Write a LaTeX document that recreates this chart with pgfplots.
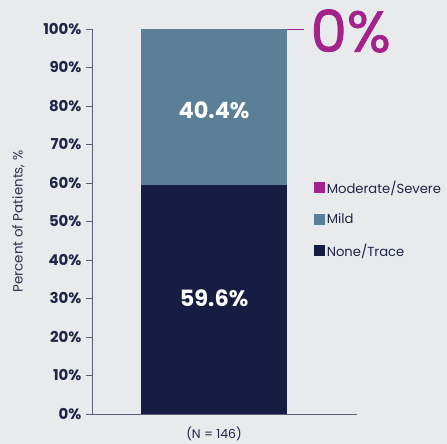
\documentclass[border=0pt]{standalone}
\usepackage{pgfplots}
\pgfplotsset{compat=1.18}
\usepackage{fontspec}
\setmainfont{Poppins}
\newfontfamily\popfb[FakeBold=1.3]{Poppins}
\definecolor{bgc}{HTML}{E9EAEC}
\definecolor{navy}{HTML}{151D42}
\definecolor{mild}{HTML}{5B7F96}
\definecolor{mag}{HTML}{A4228C}
\definecolor{axc}{HTML}{5A5F7A}
\definecolor{txt}{HTML}{1F2448}
\begin{document}
\begin{tikzpicture}
\fill[bgc] (-92bp,-30bp) rectangle (355bp,414bp);
\begin{axis}[
  scale only axis,
  width=265bp, height=385bp,
  ybar stacked,
  bar width=1,
  xmin=-0.836, xmax=0.979,
  ymin=0, ymax=100,
  axis x line=bottom, axis y line=left,
  axis line style={-, axc, line width=0.8pt},
  ytick={0,10,...,100},
  yticklabel={\pgfmathprintnumber{\tick}\%},
  xtick={0}, xticklabels={(N = 146)},
  x tick style={draw=none},
  y tick style={axc, line width=0.8pt},
  tick align=outside,
  major tick length=6bp,
  /pgf/number format/assume math mode=true,
  y tick label style={font=\bfseries\fontsize{15}{17}\selectfont, text=txt, xshift=-1bp},
  x tick label style={font=\fontsize{12.5}{14}\selectfont, text=txt, yshift=-3bp},
  ylabel={Percent of Patients, \%},
  ylabel style={font=\fontsize{13.5}{15}\selectfont, text=txt!85!gray, yshift=12bp},
  legend style={draw=none, fill=none, at={(rel axis cs:0.825,0.617)}, anchor=north west,
    font=\fontsize{13.2}{15}\selectfont, text=txt, row sep=15bp,
    /tikz/every even column/.append style={column sep=3bp}},
  legend cell align=left,
  reverse legend,
  legend image code/.code={\fill[#1] (0bp,-5.5bp) rectangle (11bp,5.5bp);},
  clip=false,
]
\addplot[fill=navy, draw=none] coordinates {(0,59.6)};
\addlegendentry{None/Trace}
\addplot[fill=mild, draw=none] coordinates {(0,40.4)};
\addlegendentry{Mild}
\addplot[fill=mag, draw=none] coordinates {(0,0)};
\addlegendentry{Moderate/Severe}
\draw[mag, line width=0.8pt] (axis cs:0.5,100) -- (axis cs:0.615,100);
\coordinate (zero) at (axis cs:0.66,100);
\coordinate (mildc) at (axis cs:0,79);
\coordinate (nonec) at (axis cs:0,30);
\end{axis}
\node[anchor=west, text=mag, font=\popfb\fontsize{58}{62}\selectfont, inner sep=0pt, yshift=-2bp] at (zero) {0\%};
\node[text=white, font=\fontsize{22.5}{25}\selectfont\bfseries] at (mildc) {40.4\%};
\node[text=white, font=\fontsize{22.5}{25}\selectfont\bfseries] at (nonec) {59.6\%};
\pgfresetboundingbox
\path[use as bounding box] (-92bp,-30bp) rectangle (355bp,414bp);
\end{tikzpicture}
\end{document}
